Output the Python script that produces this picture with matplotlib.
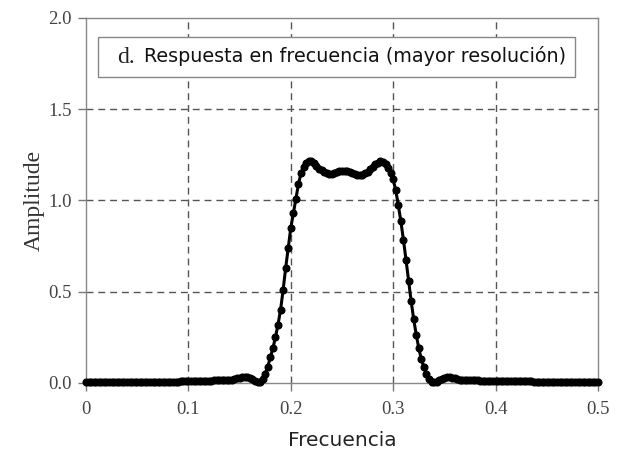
import numpy as np
import matplotlib
matplotlib.use("Agg")
from matplotlib import pyplot as plt
from matplotlib.patches import Rectangle

# frequency grid, 201 samples from 0 to 0.5
freq = np.linspace(0.0, 0.5, 201)

# amplitude, 10 samples per row (0.025 per row)
amplitude = [
    0.004, 0.004, 0.004, 0.004, 0.004, 0.004, 0.004, 0.004, 0.004, 0.004,
    0.004, 0.004, 0.004, 0.004, 0.005, 0.005, 0.005, 0.005, 0.005, 0.005,
    0.005, 0.005, 0.005, 0.005, 0.006, 0.006, 0.006, 0.006, 0.006, 0.006,
    0.007, 0.007, 0.007, 0.007, 0.008, 0.008, 0.008, 0.009, 0.009, 0.009,
    0.010, 0.010, 0.011, 0.011, 0.012, 0.012, 0.013, 0.013, 0.013, 0.013,
    0.014, 0.014, 0.015, 0.015, 0.016, 0.016, 0.017, 0.019, 0.022, 0.026,
    0.030, 0.033, 0.033, 0.031, 0.027, 0.020, 0.012, 0.006, 0.003, 0.020,
    0.050, 0.090, 0.140, 0.190, 0.250, 0.320, 0.400, 0.510, 0.630, 0.740,
    0.850, 0.930, 1.010, 1.090, 1.150, 1.185, 1.205, 1.215, 1.215, 1.205,
    1.190, 1.175, 1.165, 1.155, 1.150, 1.147, 1.147, 1.150, 1.155, 1.160,
    1.163, 1.163, 1.160, 1.155, 1.150, 1.145, 1.142, 1.140, 1.142, 1.148,
    1.158, 1.170, 1.185, 1.198, 1.208, 1.215, 1.213, 1.200, 1.180, 1.150,
    1.115, 1.055, 0.975, 0.885, 0.785, 0.675, 0.560, 0.450, 0.350, 0.265,
    0.190, 0.130, 0.085, 0.048, 0.020, 0.005, 0.003, 0.008, 0.016, 0.024,
    0.030, 0.033, 0.033, 0.030, 0.026, 0.022, 0.019, 0.017, 0.016, 0.015,
    0.015, 0.014, 0.014, 0.014, 0.013, 0.013, 0.013, 0.012, 0.012, 0.012,
    0.011, 0.011, 0.011, 0.011, 0.010, 0.010, 0.010, 0.010, 0.010, 0.010,
    0.009, 0.009, 0.009, 0.009, 0.009, 0.008, 0.008, 0.008, 0.008, 0.008,
    0.007, 0.007, 0.007, 0.007, 0.007, 0.006, 0.006, 0.006, 0.006, 0.006,
    0.005, 0.005, 0.005, 0.005, 0.005, 0.005, 0.004, 0.004, 0.004, 0.004,
    0.004,
]

x_ticks = [0, 0.1, 0.2, 0.3, 0.4, 0.5]
x_labels = ["0", "0.1", "0.2", "0.3", "0.4", "0.5"]
y_ticks = [0.0, 0.5, 1.0, 1.5, 2.0]
y_labels = ["0.0", "0.5", "1.0", "1.5", "2.0"]

SERIF = ["Liberation Serif", "DejaVu Serif"]
SANS = ["DejaVu Sans"]

fig = plt.figure(figsize=(6.2, 4.54), dpi=100)
ax = fig.add_axes([0.1387, 0.1564, 0.8258, 0.804])

# grid (only inner lines, the frame covers the rest)
for xv in x_ticks[1:-1]:
    ax.axvline(xv, color="#555555", lw=1.0, ls=(0, (5, 3.5)), zorder=1)
for yv in y_ticks[1:-1]:
    ax.axhline(yv, color="#555555", lw=1.0, ls=(0, (5, 3.5)), zorder=1)

ax.plot(freq, amplitude, color="black", lw=2.2, marker="o", ms=4.8,
        zorder=3, clip_on=False)

ax.set_xlim(0, 0.5)
ax.set_ylim(0, 2.0)
ax.set_xticks(x_ticks)
ax.set_xticklabels(x_labels, family=SERIF, fontsize=13.5, color="#444444")
ax.set_yticks(y_ticks)
ax.set_yticklabels(y_labels, family=SERIF, fontsize=13.5, color="#444444")
ax.tick_params(axis="x", direction="out", length=6, width=1, color="#777777", pad=7)
ax.tick_params(axis="y", direction="out", length=6, width=1, color="#777777", pad=4)

for sp in ax.spines.values():
    sp.set_color("#888888")
    sp.set_linewidth(1.0)

ax.set_xlabel("Frecuencia", family=SANS, fontsize=14.5, color="#222222", labelpad=9)
ax.set_ylabel("Amplitude", family=SERIF, fontsize=17, color="#333333", labelpad=3)

# title box
box = Rectangle((0.0234, 0.838), 0.9316, 0.11, transform=ax.transAxes,
                facecolor="white", edgecolor="#888888", lw=1.0, zorder=4)
ax.add_patch(box)
ax.text(0.060, 0.893, "d.", transform=ax.transAxes, family=SERIF,
        fontsize=17, color="#222222", va="center", ha="left", zorder=5)
ax.text(0.113, 0.895, "Respuesta en frecuencia (mayor resolución)",
        transform=ax.transAxes, family=SANS, fontsize=13.75, color="#111111",
        va="center", ha="left", zorder=5)

fig.savefig("out.png", dpi=100)
